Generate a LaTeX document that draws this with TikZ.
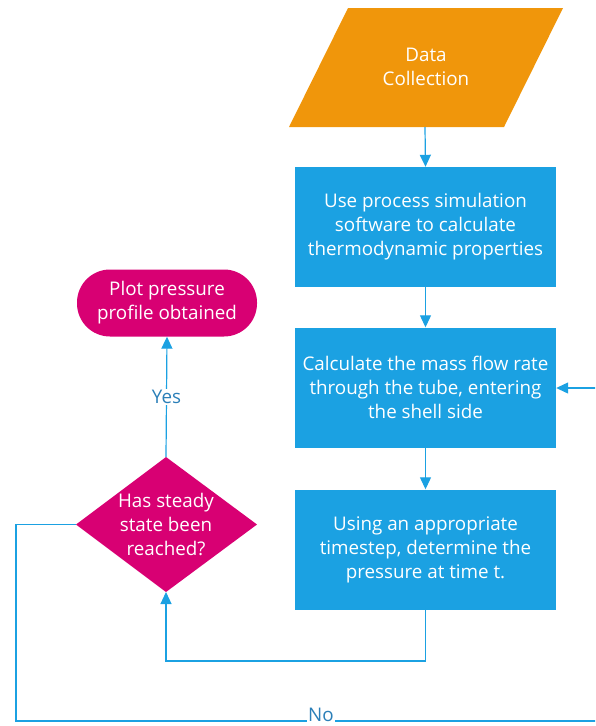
\documentclass[tikz,border=0pt]{standalone}
\usepackage{fontspec}
\setmainfont{Open Sans}
\usetikzlibrary{arrows.meta,shapes.geometric,calc}
\definecolor{procblue}{HTML}{1BA1E2}
\definecolor{dataorange}{HTML}{F0960B}
\definecolor{decpink}{HTML}{D80073}
\definecolor{labelblue}{HTML}{2B7FB8}
\tikzset{
  txt/.style={text=white,font=\fontsize{18.8}{24}\selectfont,align=center,inner sep=0pt},
  procbox/.style={txt,fill=procblue,minimum width=261pt,minimum height=120pt},
  link/.style={draw=procblue,line width=1.2pt,-{Triangle[width=11pt,length=12pt]}},
  plain/.style={draw=procblue,line width=1.2pt},
  lbl/.style={text=labelblue,fill=white,font=\fontsize{18.8}{22}\selectfont,inner sep=1pt}
}
\begin{document}
\begin{tikzpicture}[x=1pt,y=-1pt]
  \useasboundingbox (0,0) rectangle (595,726);
  \clip (0,0) rectangle (595,726);
  % input parallelogram
  \fill[dataorange] (348,8) -- (563,8) -- (504,127) -- (289,127) -- cycle;
  \node[txt] (data) at (426,67) {Data\\Collection};
  \coordinate (dataB) at (425,127);
  % process steps
  \node[procbox] (s1) at (425.5,227) {Use process simulation\\software to calculate\\thermodynamic properties};
  \node[procbox] (s2) at (425.5,387.5) {Calculate the mass flow rate\\through the tube, entering\\the shell side};
  \node[procbox] (s3) at (425.5,549.5) {Using an appropriate\\timestep, determine the\\pressure at time t.};
  % terminal
  \node[txt,fill=decpink,rounded corners=33pt,minimum width=180pt,minimum height=67pt] (plot) at (167,303) {Plot pressure\\profile obtained};
  % decision
  \fill[decpink] (166,457) -- (257,524.5) -- (166,592) -- (76,524.5) -- cycle;
  \node[txt] (dec) at (166,524.5) {Has steady\\state been\\reached?};
  \coordinate (decT) at (166,457);
  \coordinate (decB) at (166,592);
  \coordinate (decL) at (76,524.5);
  % connectors
  \draw[link] (dataB) -- (s1.north);
  \draw[link] (s1.south) -- (s2.north);
  \draw[link] (s2.south) -- (s3.north);
  \draw[link] (s3.south) -- (425.5,661) -- (166,661) -- (decB);
  \draw[link] (decT) -- node[lbl,pos=0.5] {Yes} (plot.south);
  \coordinate (farR) at (620,721);
  \coordinate (farRT) at (620,388);
  \draw[plain] (decL) -- (16,524.5) -- (16,721) -- (farR) -- (farRT);
  \node[lbl,anchor=base,inner xsep=1.5pt,inner ysep=2pt] (no) at (321,721.5) {No};
  \draw[link] (farRT) -- (s2.east |- farRT);
\end{tikzpicture}
\end{document}
